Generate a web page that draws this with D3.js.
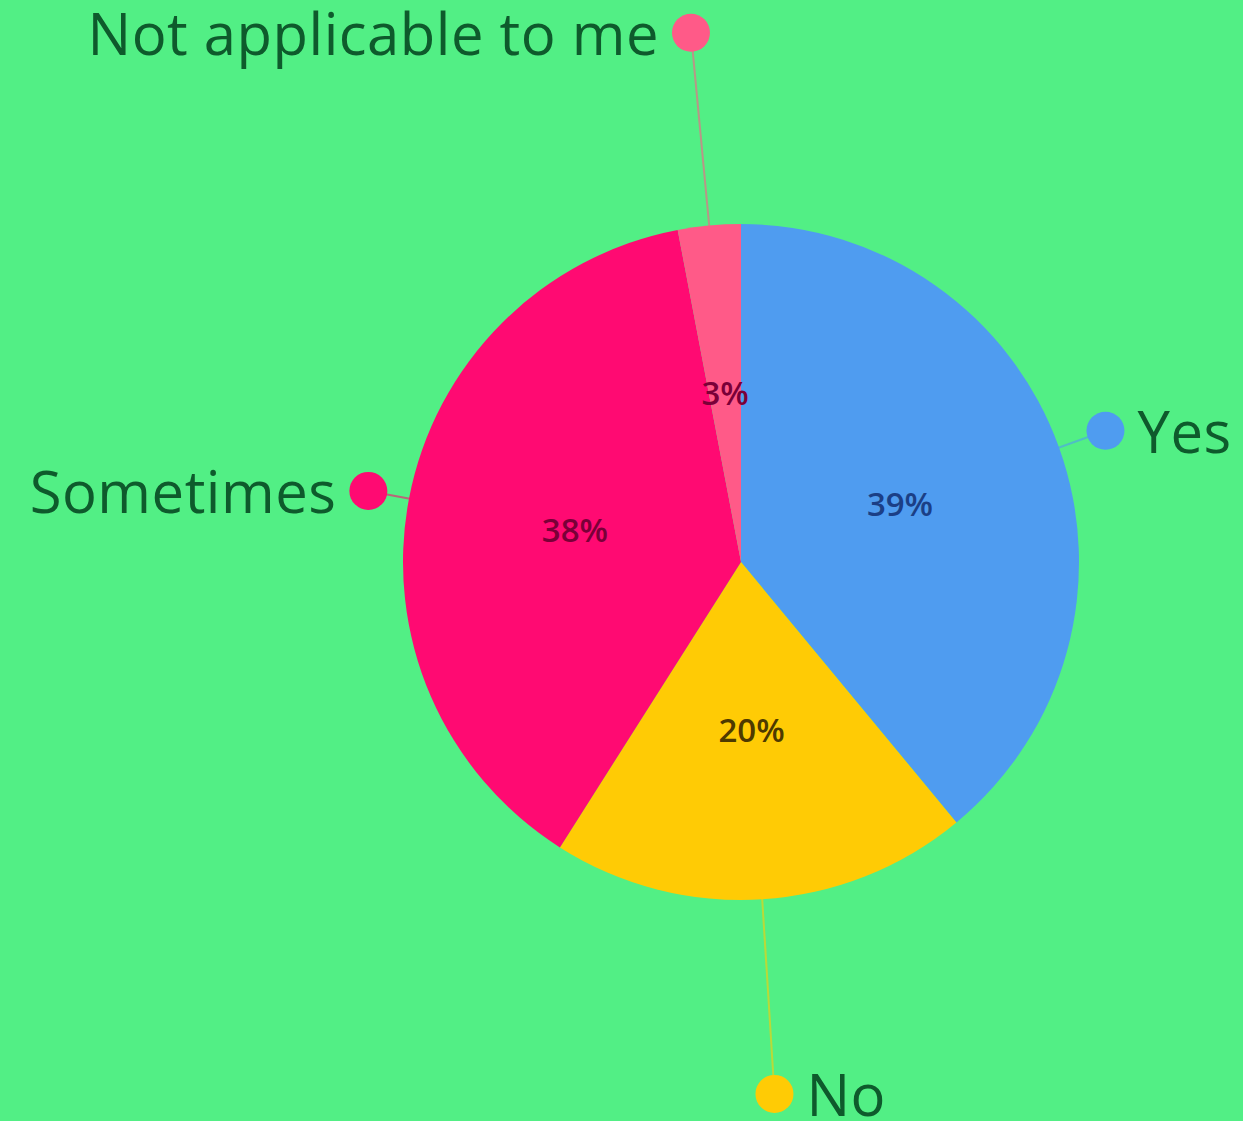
<!DOCTYPE html>
<html>
<head>
<meta charset="utf-8">
<script src="https://cdn.jsdelivr.net/npm/d3@7"></script>
<style>
  html, body { margin: 0; padding: 0; background: #52ef85; }
  svg { display: block; }
</style>
</head>
<body>
<svg id="chart" width="1243" height="1121"></svg>
<script>
// answers, in the order they go round the pie (clockwise from 12 o'clock)
var categories = ["Yes", "No", "Sometimes", "Not applicable to me"];
var values = [39, 20, 38, 3];
var sliceColours = ["#4f9cf0", "#ffcb05", "#ff0a72", "#ff5a88"];
var valueColours = ["#1b3f86", "#4e3a00", "#7a0038", "#7a0038"];

var width = 1243, height = 1121,
	cx = 741, cy = 562,
	radius = 338;

var svg = d3.select("#chart");

var data = categories.map((c, i) => ({ name: c, value: values[i], i: i }));

var pie = d3.pie()
	.sort(null)
	.value(d => d.value);

var arcs = pie(data);

var arc = d3.arc()
	.innerRadius(0)
	.outerRadius(radius);

var labelArc = d3.arc()
	.innerRadius(radius * 0.5)
	.outerRadius(radius * 0.5);

var g = svg.append("g")
	.attr("transform", `translate(${cx},${cy})`);

var midAngle = d => (d.startAngle + d.endAngle) / 2;
// outer labels ride on an ellipse round the pie
var rx = 376, ry = 534;
var calloutR = d => {
	var a = midAngle(d);
	return rx * ry / Math.sqrt(Math.pow(ry * Math.sin(a), 2) + Math.pow(rx * Math.cos(a), 2));
};
var polar = (a, r) => [r * Math.sin(a), -r * Math.cos(a)];

// callout lines sit under the slices
var callouts = g.append("g").attr("class", "callouts");

callouts.selectAll("line")
	.data(arcs)
	.join("line")
	.attr("x1", d => polar(midAngle(d), radius - 5)[0])
	.attr("y1", d => polar(midAngle(d), radius - 5)[1])
	.attr("x2", d => polar(midAngle(d), calloutR(d))[0])
	.attr("y2", d => polar(midAngle(d), calloutR(d))[1])
	.attr("stroke", d => sliceColours[d.data.i])
	.attr("stroke-opacity", 0.6)
	.attr("stroke-width", 2);

g.append("g")
	.selectAll("path")
	.data(arcs)
	.join("path")
	.attr("d", arc)
	.attr("fill", d => sliceColours[d.data.i]);

callouts.selectAll("circle")
	.data(arcs)
	.join("circle")
	.attr("cx", d => polar(midAngle(d), calloutR(d))[0])
	.attr("cy", d => polar(midAngle(d), calloutR(d))[1])
	.attr("r", 19)
	.attr("fill", d => sliceColours[d.data.i]);

callouts.selectAll("text")
	.data(arcs)
	.join("text")
	.attr("x", d => {
		var p = polar(midAngle(d), calloutR(d));
		return midAngle(d) < Math.PI ? p[0] + 32 : p[0] - 32;
	})
	.attr("y", d => polar(midAngle(d), calloutR(d))[1] + 2)
	.attr("dy", "0.35em")
	.attr("text-anchor", d => midAngle(d) < Math.PI ? "start" : "end")
	.attr("font-family", "'Open Sans', sans-serif")
	.attr("font-size", 58)
	.attr("letter-spacing", 0.5)
	.attr("fill", "#0e5a2c")
	.text(d => d.data.name);

// percentages inside
g.append("g")
	.selectAll("text")
	.data(arcs)
	.join("text")
	.attr("transform", d => `translate(${labelArc.centroid(d)})`)
	.attr("dy", "0.35em")
	.attr("text-anchor", "middle")
	.attr("font-family", "'Open Sans', sans-serif")
	.attr("font-weight", 600)
	.attr("font-size", 33)
	.attr("fill", d => valueColours[d.data.i])
	.text(d => d.data.value + "%");
</script>
</body>
</html>
